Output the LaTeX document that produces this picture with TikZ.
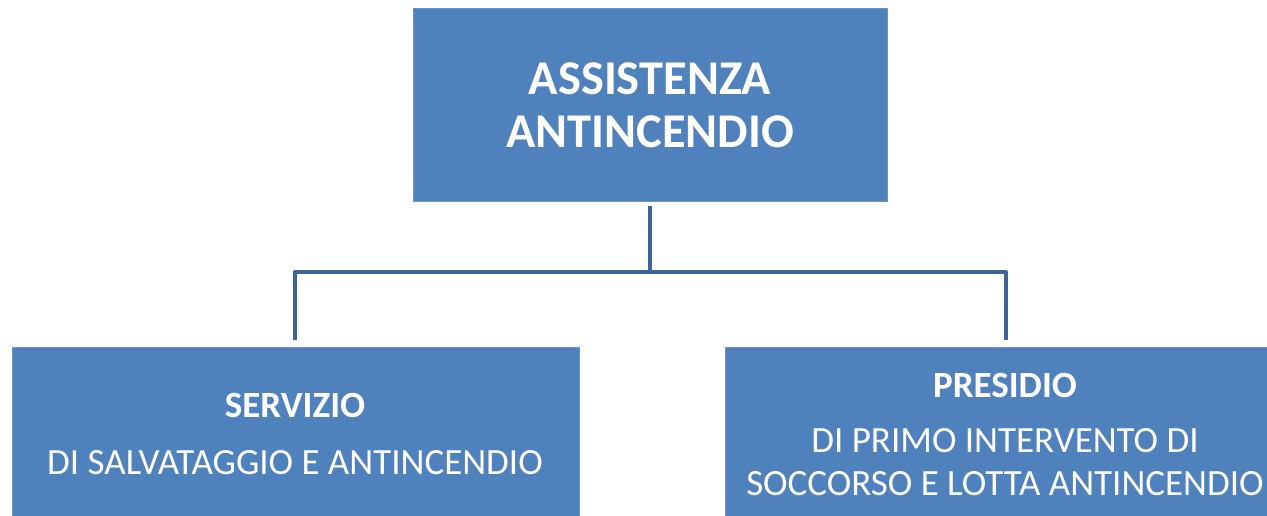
\documentclass[tikz,border=0pt]{standalone}
\usepackage{fontspec}
\setmainfont{Carlito}
\definecolor{boxblue}{HTML}{4F81BD}
\definecolor{linkblue}{HTML}{3C6496}
\begin{document}
\begin{tikzpicture}[x=1pt,y=-1pt,
  box/.style={draw=boxblue!85!white,line width=0.8pt,fill=boxblue,anchor=north west,inner sep=0pt},
  label/.style={text=white,align=center,inner sep=0pt},
  link/.style={draw=linkblue,line width=4pt}]
\useasboundingbox (0,0) rectangle (1267,515);
\node[box,minimum width=474pt,minimum height=193pt] (top) at (413,8) {};
\node[label,font=\fontsize{48.5}{53}\selectfont\bfseries] (tt) at (650,105)
  {ASSISTENZA\\ANTINCENDIO};
\node[box,minimum width=567pt,minimum height=175pt] (left) at (12,347) {};
\node[label,font=\fontsize{37}{44}\selectfont] (lt) at (295,434)
  {\textbf{SERVIZIO}\\[13pt]DI SALVATAGGIO E ANTINCENDIO};
\node[box,minimum width=560pt,minimum height=175pt] (right) at (725,347) {};
\node[label,font=\fontsize{37}{43}\selectfont] (rt) at (1005,434)
  {\textbf{PRESIDIO}\\[12pt]DI PRIMO INTERVENTO DI\\SOCCORSO E LOTTA ANTINCENDIO};
\coordinate (j) at (650,272);
\draw[link] (650,206) -- (j);
\draw[link,line join=round] (295,340) -- (295,272) -- (1006,272) -- (1006,340);
\end{tikzpicture}
\end{document}
